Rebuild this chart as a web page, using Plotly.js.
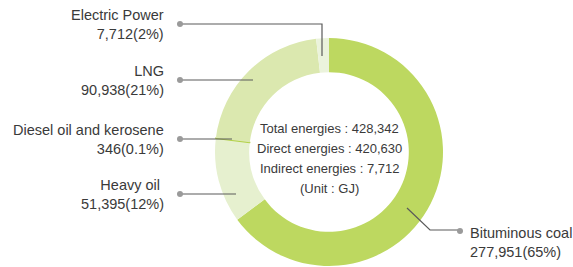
<!DOCTYPE html>
<html>
<head>
<meta charset="utf-8">
<script src="https://cdn.plot.ly/plotly-3.0.1.min.js"></script>
<style>html,body{margin:0;padding:0;background:#fff;}#chart{width:573px;height:267px;}</style>
</head>
<body>
<div id="chart"></div>
<script>
// Data
const categories = ["Bituminous coal", "Heavy oil", "Diesel oil and kerosene", "LNG", "Electric Power"];
const values = [277951, 51395, 346, 90938, 7712];
const percentLabels = ["65%", "12%", "0.1%", "21%", "2%"];
const valueLabels = ["277,951", "51,395", "346", "90,938", "7,712"];
const sliceColors = ["#bdd860", "#e6f0cf", "#b3d14a", "#dbe8af", "#ebf3dc"];
const centerLines = ["Total energies : 428,342", "Direct energies : 420,630", "Indirect energies : 7,712", "(Unit : GJ)"];

const W = 573, H = 267;
const px = x => x / W;
const py = y => 1 - y / H;

const trace = {
  type: "pie",
  values: values,
  labels: categories,
  sort: false,
  direction: "clockwise",
  rotation: 0,
  hole: 0.70,
  textinfo: "none",
  hoverinfo: "label+value+percent",
  marker: {
    colors: sliceColors,
    line: { color: sliceColors, width: [0, 0, 1.2, 0, 0] }
  },
  domain: { x: [px(215), px(443)], y: [py(266), py(38)] },
  showlegend: false
};

const lineColor = "#5a5a5a";
const lab = { family: "Liberation Sans, Arial, sans-serif", size: 14.5, color: "#3a3a3a" };

const leftLabels = [
  { i: 4, y: 15 },
  { i: 3, y: 71 },
  { i: 2, y: 130 },
  { i: 1, y: 185 }
];
const annotations = [];
leftLabels.forEach(l => {
  annotations.push({
    xref: "paper", yref: "paper", x: px(166), y: py(l.y + 9), xanchor: "right", yanchor: "middle",
    text: categories[l.i] + (l.i === 1 ? " " : "") + "<br>" + valueLabels[l.i] + "(" + percentLabels[l.i] + ")",
    showarrow: false, align: "right", font: lab
  });
});
annotations.push({
  xref: "paper", yref: "paper", x: px(468), y: py(242), xanchor: "left", yanchor: "middle",
  text: categories[0] + "<br>" + valueLabels[0] + "(" + percentLabels[0] + ")",
  showarrow: false, align: "left", font: lab
});
centerLines.forEach((t, k) => {
  annotations.push({
    xref: "paper", yref: "paper", x: px(329), y: py(128 + 20 * k), xanchor: "center", yanchor: "middle",
    text: t, showarrow: false, align: "center",
    font: { family: "Liberation Sans Narrow, Liberation Sans, sans-serif", size: 13, color: "#3a3a3a" }
  });
});

const dots = [[180, 24], [180, 80], [180, 139], [180, 194], [460, 231]];
const shapes = [];
const paths = [
  [[180, 24], [322, 24], [322, 56]],
  [[180, 80], [253, 80]],
  [[180, 139], [232, 139]],
  [[180, 194], [236, 194]],
  [[407, 208], [430, 230], [460, 230]]
];
paths.forEach(p => {
  shapes.push({
    type: "path", xref: "paper", yref: "paper",
    path: p.map((pt, k) => (k ? "L" : "M") + px(pt[0]) + "," + py(pt[1])).join(" "),
    line: { color: lineColor, width: 1.2 }
  });
});
dots.forEach(d => {
  shapes.push({
    type: "circle", xref: "paper", yref: "paper",
    x0: px(d[0] - 3), x1: px(d[0] + 3), y0: py(d[1] + 3), y1: py(d[1] - 3),
    fillcolor: "#9a9a9a", line: { width: 0 }
  });
});

const layout = {
  width: W, height: H,
  margin: { l: 0, r: 0, t: 0, b: 0 },
  paper_bgcolor: "#ffffff",
  plot_bgcolor: "#ffffff",
  showlegend: false,
  annotations: annotations,
  shapes: shapes
};
Plotly.newPlot("chart", [trace], layout, { displayModeBar: false, staticPlot: true });
</script>
</body>
</html>
